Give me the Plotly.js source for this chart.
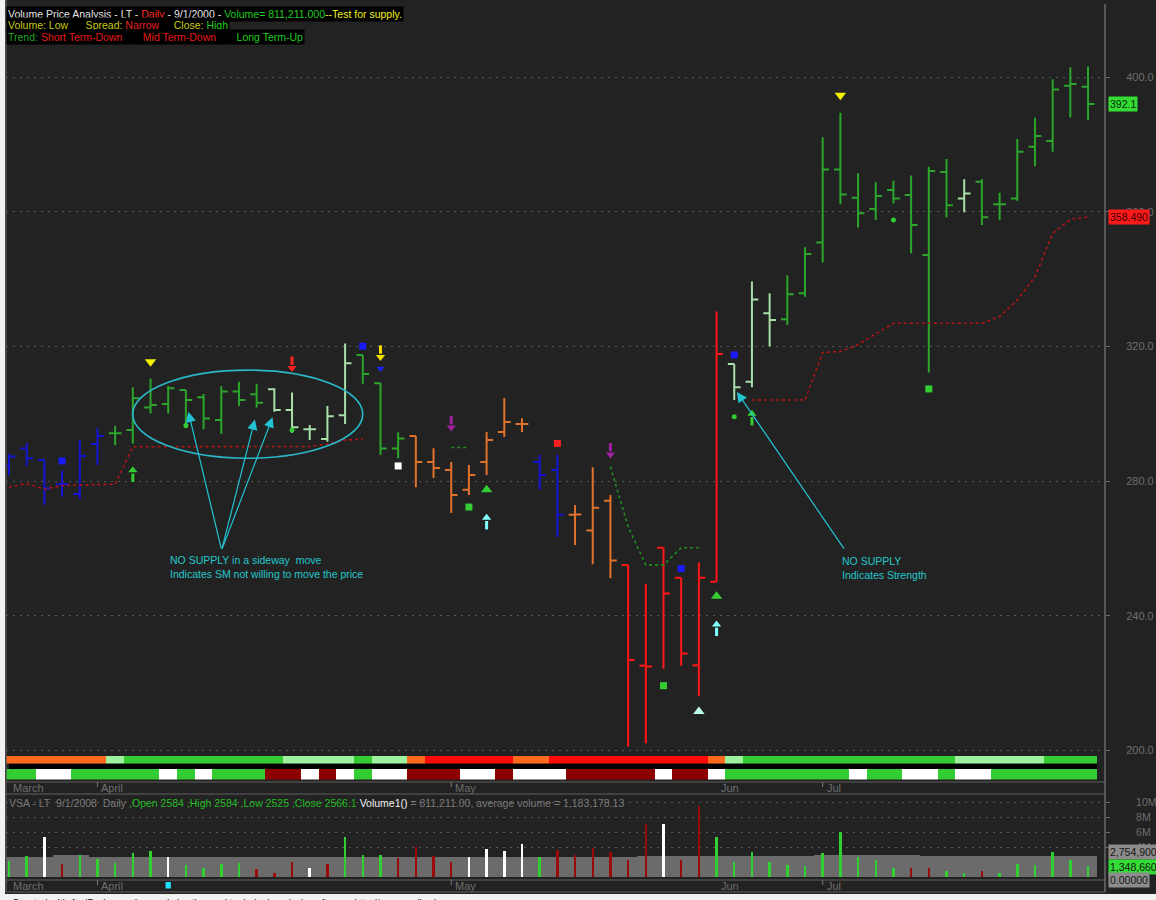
<!DOCTYPE html>
<html>
<head>
<meta charset="utf-8">
<script src="https://cdn.plot.ly/plotly-3.0.1.min.js"></script>
<style>
  html, body { margin: 0; padding: 0; background: #ffffff; }
  #chart { width: 1156px; height: 900px; }
</style>
</head>
<body>
<div id="chart"></div>
<script>
// VSA daily chart of LT: price bars, trend bands and volume

// ---- data ----
const high  = [288.1, 291.4, 286.3, 283.1, 292.2, 295.7, 296.4, 307.9, 310.5, 308.3,
               307.1, 305.9, 308.3, 309.5, 308.9, 307.6, 306.3, 296.7, 302.3, 320.9,
               317.5, 309.1, 294.5, 293.4, 289.8, 285.7, 284.8, 294.6, 304.7, 298.7,
               287.8, 287.8, 272.9, 284.1, 275.9, 255.1, 249.4, 260.2, 251.3, 255.8,
               330.4, 314.8, 339.3, 335.8, 341.2, 349.5, 382.2, 389.5, 371.5, 368.8,
               369.3, 370.8, 373.4, 375.7, 369.7, 369.7, 365.7, 381.7, 388.0, 399.4,
               403.0, 403.2];
const low   = [281.8, 284.5, 273.0, 275.4, 274.6, 284.8, 290.7, 291.2, 300.1, 300.1,
               295.7, 295.4, 294.0, 302.3, 301.9, 300.6, 294.4, 292.2, 291.7, 297.0,
               308.9, 287.8, 286.8, 278.2, 280.9, 270.5, 275.9, 281.8, 293.1, 294.6,
               277.4, 263.4, 261.0, 255.3, 251.1, 201.1, 202.1, 224.2, 225.1, 216.1,
               250.1, 304.1, 307.9, 320.0, 326.4, 334.8, 345.0, 362.3, 355.4, 357.6,
               362.5, 347.7, 312.3, 358.4, 359.9, 356.1, 357.6, 363.3, 373.6, 377.9,
               388.1, 387.3];
const open  = [284.5, 289.7, 286.3, 279.1, 276.2, 291.0, 294.2, 295.2, 301.9, 302.9,
               307.1, 304.9, 298.2, 306.6, 305.8, 307.3, 301.1, 295.4, 292.5, 299.6,
               317.5, 309.1, 289.7, 293.4, 285.7, 283.3, 277.4, 285.7, 294.6, 297.0,
               285.7, 283.3, 270.0, 265.3, 274.2, 255.1, 225.1, 260.2, 251.3, 225.3,
               250.1, 314.8, 309.5, 329.9, 328.1, 335.8, 350.9, 372.6, 364.2, 360.9,
               366.5, 365.0, 347.2, 371.9, 364.0, 369.0, 362.3, 364.0, 379.4, 381.1,
               397.5, 397.2];
const close = [287.3, 286.8, 277.9, 279.1, 287.5, 293.4, 294.2, 304.6, 302.6, 307.6,
               304.1, 298.6, 306.6, 304.1, 303.3, 301.1, 296.0, 295.4, 299.3, 315.0,
               311.8, 289.7, 292.7, 285.7, 283.9, 275.9, 281.8, 292.2, 297.6, 297.0,
               281.8, 270.0, 270.1, 272.1, 256.4, 226.8, 224.9, 246.6, 228.8, 251.3,
               317.8, 307.9, 334.0, 327.9, 335.5, 347.5, 372.6, 365.2, 359.6, 364.7,
               364.0, 356.1, 372.2, 362.0, 365.5, 358.4, 362.3, 377.9, 382.6, 396.4,
               398.0, 392.1];

// bar colour class: B blue, G green, L pale green, O orange, R red
const barClass = 'BBBBBBGGGGGGGGGLLLLLGGGOOOOOOOBBOOORRRRRRLLLGGGGGGGGGGLGGGGGGG'.split('');

// volume in millions and its colour class: G up, W neutral, R down
const volume = [2.13, 2.8, 5.3, 1.73, 2.93, 2.4, 1.9, 3.15, 3.47, 2.62,
                1.6, 1.16, 1.73, 1.9, 1.07, 0.58, 1.95, 1.16, 1.73, 5.3,
                2.93, 2.93, 2.6, 3.96, 2.8, 1.95, 2.62, 3.7, 3.47, 4.35,
                2.62, 3.6, 2.93, 3.82, 3.29, 2.27, 7.07, 7.07, 2.27, 9.47,
                5.38, 1.95, 3.29, 1.95, 1.6, 1.51, 3.24, 5.96, 2.62, 2.27,
                1.24, 1.24, 1.24, 0.84, 0.58, 0.8, 0.58, 1.73, 1.6, 3.29,
                2.27, 1.51];
const volClass = 'GGWRGGGGGWGGGGRRRWRGGGRRRRWWWWGRRRRRRWRRGGGGGGGGGGGRRGGRGGGGGG'.split('');
const avgVolume = [2.63, 2.63, 2.63, 2.9, 2.9, 2.63, 2.63, 2.63, 2.63, 2.63,
                   2.63, 2.63, 2.63, 2.63, 2.63, 2.63, 2.63, 2.63, 2.63, 2.63,
                   2.63, 2.63, 2.63, 2.63, 2.63, 2.63, 2.63, 2.63, 2.63, 2.63,
                   2.63, 2.63, 2.63, 2.63, 2.63, 2.63, 2.8, 2.8, 2.8, 2.8,
                   2.8, 2.8, 2.8, 2.8, 2.8, 2.8, 2.95, 2.95, 2.95, 2.95,
                   2.95, 2.95, 2.75, 2.75, 2.75, 2.75, 2.75, 2.75, 2.75, 2.75,
                   2.75, 2.75];

// trend ribbons: O orange, l pale green, G green, R red / W white, D dark red
const bandTop    = 'OOOOOOlGGGGGGGGGllllGllORRRRROORRRRRRRRROlGGGGGGGGGGGGlllllGGG'.split('');
const bandBottom = 'GGWWGGGGGWGWGGGDDWDWGWWDDDWWDWWWDDDDDWDDWGGGGGGGWGGWWGWWGGGGGG'.split('');

// dotted stop lines
const stopLine = [278.2, 279.3, 277.6, 278.7, 278.8, 279.0, 279.1, 290.2, 290.2, 290.2,
                  290.2, 290.2, 290.2, 290.2, 290.2, 290.2, 290.2, 290.3, 291.0, 292.2,
                  292.5, null, null, null, null, null, null, null, null, null,
                  null, null, null, null, null, null, null, null, null, null,
                  null, null, 304.1, 304.1, 304.1, 304.1, 318.2, 318.5, 320.6, 323.8,
                  326.9, 326.9, 326.9, 326.9, 326.9, 326.9, 328.9, 333.8, 340.7, 353.6,
                  357.8, 358.49];
const trendLine = [null, null, null, null, null, null, null, null, null, null,
                   null, null, null, null, null, null, null, null, null, null,
                   null, null, null, null, null, 290.0, 290.0, null, null, null,
                   null, null, null, null, 284.3, 266.5, 255.1, 255.1, 260.2, 260.2,
                   null, null, null, null, null, null, null, null, null, null,
                   null, null, null, null, null, null, null, null, null, null,
                   null, null];

// signals
const yellowTriX = [8, 47],           yellowTriY = [315.5, 394.7];
const blueTriX = [21],                blueTriY = [313.5];
const blueSqX = [3, 20, 38, 41],      blueSqY = [286.0, 320.1, 254.0, 317.5];
const redSqX = [31],                  redSqY = [291.2];
const whiteSqX = [22],                whiteSqY = [284.5];
const greenSqX = [26, 37, 52],        greenSqY = [272.3, 219.2, 307.4];
const greenDotX = [10, 16, 41, 50],   greenDotY = [296.5, 295.2, 299.1, 357.6];
const greenTriX = [27, 40],           greenTriY = [277.4, 245.8];
const paleTriX = [39],                paleTriY = [211.5];
const yellowArrX = [21],              yellowArrY = [317.8];
const redArrX = [16],                 redArrY = [314.5];
const purpleArrX = [25, 34],          purpleArrY = [296.8, 288.8];
const greenArrX = [7, 42],            greenArrY = [282.3, 299.1];
const cyanArrX = [27, 40],            cyanArrY = [268.2, 236.5];
const cyanBar = 9;

// axes
const priceTicks = [200, 240, 280, 320, 360, 400];
const volTicks = [4, 6, 8, 10];
const monthNames = ['March', 'April', 'May', 'Jun', 'Jul'];
const monthIdx = [0, 5, 25, 40, 46];
const monthMark = [false, true, true, false, true];
const volBoxValues = [2.7549, 1.34866, 0];
const volBoxText = ['2,754,900', '1,348,660', '0.00000'];

// ---- helpers ----
const W = 1156, H = 900;
const px = x => x / W;
const py = y => 1 - y / H;
const FONT = 'Liberation Sans, Arial, sans-serif';
const days = close.map((_, i) => i);

const barColors  = { B: '#1414d2', G: '#2ba52b', L: '#a8dea8', O: '#e0722c', R: '#ff1616' };
const volColors  = { G: '#2fd02f', W: '#ffffff', R: '#9a0a0a' };
const bandColors = { O: '#ff6a1e', l: '#9ef29e', G: '#33cc33', R: '#ff0a0a', W: '#ffffff', D: '#8c0000' };

const traces = [];

// ribbons
traces.push({
  type: 'bar', x: days, y: days.map(() => 1), width: 1, yaxis: 'y2',
  marker: { color: bandTop.map(c => bandColors[c]), line: { width: 0 } }, hoverinfo: 'skip'
});
traces.push({
  type: 'bar', x: days, y: days.map(() => 1), width: 1, yaxis: 'y3',
  marker: { color: bandBottom.map(c => bandColors[c]), line: { width: 0 } }, hoverinfo: 'skip'
});

// average volume (grey area) then the volume bars
traces.push({
  type: 'bar', x: days, y: avgVolume, width: 1, yaxis: 'y4',
  marker: { color: '#6b6b6b', line: { width: 0 } }, hoverinfo: 'skip'
});
traces.push({
  type: 'bar', x: days, y: volume, width: 0.14, yaxis: 'y4',
  marker: { color: volClass.map(c => volColors[c]), line: { width: 0 } }, hoverinfo: 'skip'
});

// price bars, one ohlc trace per colour
Object.keys(barColors).forEach(k => {
  const sel = days.filter(i => barClass[i] === k);
  const col = barColors[k];
  traces.push({
    type: 'ohlc', x: sel, open: sel.map(i => open[i]), high: sel.map(i => high[i]),
    low: sel.map(i => low[i]), close: sel.map(i => close[i]), tickwidth: 0.36,
    increasing: { line: { color: col, width: 2 } },
    decreasing: { line: { color: col, width: 2 } },
    hoverinfo: 'skip'
  });
});

// dotted lines
traces.push({
  type: 'scatter', mode: 'lines', x: days, y: stopLine, connectgaps: false,
  line: { color: '#b01414', width: 1.6, dash: 'dot' }, hoverinfo: 'skip'
});
traces.push({
  type: 'scatter', mode: 'lines', x: days, y: trendLine, connectgaps: false,
  line: { color: '#1f8f1f', width: 1.6, dash: 'dot' }, hoverinfo: 'skip'
});

function markers(xs, ys, symbol, color, size) {
  return {
    type: 'scatter', mode: 'markers', x: xs, y: ys, hoverinfo: 'skip',
    marker: { symbol: symbol, color: color, size: size, line: { width: 0 } }
  };
}
function arrow(xs, ys, color, dir) {
  return [
    {
      type: 'scatter', mode: 'markers', x: xs, y: ys.map(v => v - dir * 1.3), hoverinfo: 'skip',
      marker: { symbol: 'line-ns', size: 6, line: { color: color, width: 3 } }
    },
    markers(xs, ys.map(v => v + dir * 0.9), dir > 0 ? 'triangle-up' : 'triangle-down', color, 8)
  ];
}

traces.push(markers(yellowTriX, yellowTriY, 'triangle-down', '#f4f000', 10));
traces.push(markers(blueTriX, blueTriY, 'triangle-down', '#2020ff', 7));
traces.push(markers(blueSqX, blueSqY, 'square', '#1a1aff', 7));
traces.push(markers(redSqX, redSqY, 'square', '#ff2020', 7));
traces.push(markers(whiteSqX, whiteSqY, 'square', '#ffffff', 7));
traces.push(markers(greenSqX, greenSqY, 'square', '#33cc33', 7));
traces.push(markers(greenDotX, greenDotY, 'circle', '#33cc33', 5));
traces.push(markers(greenTriX, greenTriY, 'triangle-up', '#33cc33', 10));
traces.push(markers(paleTriX, paleTriY, 'triangle-up', '#b8ffe6', 10));
traces.push(...arrow(yellowArrX, yellowArrY, '#f0e000', -1));
traces.push(...arrow(redArrX, redArrY, '#ff2020', -1));
traces.push(...arrow(purpleArrX, purpleArrY, '#a020a0', -1));
traces.push(...arrow(greenArrX, greenArrY, '#33cc33', 1));
traces.push(...arrow(cyanArrX, cyanArrY, '#80ffff', 1));

// ---- layout pieces ----
const grid = { showgrid: true, gridcolor: '#555555', griddash: '2px,5px', gridwidth: 1 };
const axisFont = { family: FONT, size: 11, color: '#6e6e6e' };

const shapes = [
  // black gap between ribbons
  { type: 'rect', xref: 'paper', yref: 'paper', x0: px(9), x1: px(1097), y0: py(769), y1: py(763.5),
    fillcolor: '#000000', line: { width: 0 }, layer: 'below' },
  // panel separators
  ...[782, 794, 880, 892].map(y => ({
    type: 'line', xref: 'paper', yref: 'paper', x0: px(6), x1: px(1105), y0: py(y), y1: py(y),
    line: { color: '#4c4c4c', width: 1.5 }
  })),
  // right axis line and left border
  { type: 'line', xref: 'paper', yref: 'paper', x0: px(1105), x1: px(1105), y0: py(892), y1: py(4),
    line: { color: '#6a6a6a', width: 1.5 } },
  { type: 'line', xref: 'paper', yref: 'paper', x0: px(6), x1: px(6), y0: py(892), y1: 1,
    line: { color: '#555555', width: 1.5 } },
  { type: 'rect', xref: 'paper', yref: 'paper', x0: 0, x1: px(5), y0: 0, y1: 1,
    fillcolor: '#f2f2f2', line: { width: 0 } },
  { type: 'rect', xref: 'paper', yref: 'paper', x0: 0, x1: 1, y0: 0, y1: py(894),
    fillcolor: '#f2f2f2', line: { width: 0 } },
  // sideways range ellipse
  { type: 'circle', xref: 'x', yref: 'y', x0: 6.99, x1: 20.0, y0: 286.8, y1: 313.0,
    line: { color: '#2ab8c8', width: 1.6 } },
  // cyan marker in the bottom date row
  { type: 'rect', xref: 'x', yref: 'paper', x0: cyanBar - 0.15, x1: cyanBar + 0.15,
    y0: py(888.5), y1: py(882), fillcolor: '#20e0ff', line: { width: 0 } }
];

// month tick marks
[788, 886].forEach(rowY => {
  monthIdx.forEach((m, k) => {
    if (!monthMark[k]) return;
    shapes.push({ type: 'line', xref: 'x', yref: 'paper', x0: m, x1: m,
      y0: py(rowY - 1), y1: py(rowY - 6), line: { color: '#777777', width: 1 } });
  });
});

const annotations = [];

// header block
const hdr = [
  '<span style="color:#e6e6e6">Volume Price Analysis - LT - </span><span style="color:#ff2a2a">Daily</span>' +
  '<span style="color:#e6e6e6"> - 9/1/2000 - </span><span style="color:#22cc22">Volume= 811,211.000</span>' +
  '<span style="color:#f0f020">--Test for supply.</span>',
  '<span style="color:#c8c814">Volume: Low\u00a0\u00a0\u00a0\u00a0\u00a0 Spread: </span><span style="color:#e42020">Narrow</span>' +
  '<span style="color:#c8c814">\u00a0\u00a0\u00a0\u00a0 Close: </span><span style="color:#22cc22">High</span>',
  '<span style="color:#22a822">Trend: </span><span style="color:#e41818">Short Term-Down</span>' +
  '\u00a0\u00a0\u00a0\u00a0\u00a0\u00a0\u00a0<span style="color:#e41818">Mid Term-Down</span>' +
  '\u00a0\u00a0\u00a0\u00a0\u00a0\u00a0\u00a0<span style="color:#22cc22">Long Term-Up</span>'
];
[13.5, 25, 36.5].forEach((y, k) => annotations.push({
  xref: 'paper', yref: 'paper', x: px(6), y: py(y), xanchor: 'left', yanchor: 'middle',
  text: hdr[k], showarrow: false, bgcolor: '#000000', borderpad: 1,
  font: { family: FONT, size: 10.5, color: '#e6e6e6' }
}));

// volume pane title
annotations.push({
  xref: 'paper', yref: 'paper', x: px(7), y: py(803), xanchor: 'left', yanchor: 'middle', showarrow: false,
  text: '<span style="color:#7a7a7a">VSA - LT\u00a0\u00a09/1/2008\u00a0\u00a0Daily </span>' +
        '<span style="color:#22bb22">,Open 2584 ,High 2584 ,Low 2525 ,Close 2566.1 </span>' +
        '<span style="color:#f0f0f0">Volume1()</span>' +
        '<span style="color:#7a7a7a"> = 811,211.00, average volume = 1,183,178.13</span>',
  font: { family: FONT, size: 10.5, color: '#7a7a7a' }
});

// month labels (both panes)
[788, 886].forEach(rowY => {
  monthNames.forEach((name, k) => annotations.push({
    xref: 'x', yref: 'paper', x: monthIdx[k], y: py(rowY), xanchor: 'left', yanchor: 'middle',
    xshift: 2, text: name, showarrow: false, font: axisFont
  }));
});

// notes
const noteFont = { family: FONT, size: 10.5, color: '#22c6cc' };
annotations.push({
  xref: 'x', yref: 'y', x: 9.0, y: 254.4, xanchor: 'left', yanchor: 'middle', align: 'left',
  showarrow: false, text: 'NO SUPPLY in a sideway\u00a0 move<br>Indicates SM not willing to move the price', font: noteFont
});
annotations.push({
  xref: 'x', yref: 'y', x: 46.97, y: 254.2, xanchor: 'left', yanchor: 'middle', align: 'left',
  showarrow: false, text: 'NO SUPPLY<br>Indicates Strength', font: noteFont
});
const pointer = { xref: 'x', yref: 'y', axref: 'x', ayref: 'y', text: '', showarrow: true,
  arrowhead: 2, arrowsize: 1.7, arrowwidth: 1.2, arrowcolor: '#22c4d4', standoff: 0 };
[[10.14, 300.6], [13.9, 298.3], [14.9, 299.0]].forEach(h => annotations.push(
  Object.assign({}, pointer, { x: h[0], y: h[1], ax: 12.02, ay: 259.5 })));
annotations.push(Object.assign({}, pointer, { x: 41.15, y: 306.5, ax: 47.26, ay: 259.5 }));

// last value boxes
const last = close.length - 1;
annotations.push({
  xref: 'paper', yref: 'y', x: px(1108), y: close[last], xanchor: 'left', yanchor: 'middle',
  text: close[last].toFixed(1), showarrow: false, bgcolor: '#33dd33', borderpad: 1,
  font: { family: FONT, size: 10.5, color: '#0a2a0a' }
});
annotations.push({
  xref: 'paper', yref: 'y', x: px(1108), y: stopLine[last], xanchor: 'left', yanchor: 'middle',
  text: stopLine[last].toFixed(3), showarrow: false, bgcolor: '#ff1a1a', borderpad: 1,
  font: { family: FONT, size: 10.5, color: '#3a0000' }
});
const volBoxBg = ['#8c8c8c', '#33dd33', '#8c8c8c'];
volBoxValues.forEach((v, k) => annotations.push({
  xref: 'paper', yref: 'y4', x: px(1108), y: v, xanchor: 'left', yanchor: 'middle',
  yshift: k === 0 ? 4 : (k === 2 ? -3 : 0),
  text: volBoxText[k], showarrow: false, bgcolor: volBoxBg[k], borderpad: 1,
  font: { family: FONT, size: 10.5, color: '#151515' }
}));

// credit line
annotations.push({
  xref: 'paper', yref: 'paper', x: px(10), y: py(895.5), xanchor: 'left', yanchor: 'top', showarrow: false,
  text: 'Created with AmiBroker - advanced charting and technical analysis software. http://www.amibroker.com',
  font: { family: FONT, size: 10, color: '#111111' }
});

const layout = {
  width: W, height: H,
  margin: { l: 0, r: 0, t: 0, b: 0 },
  paper_bgcolor: '#222222', plot_bgcolor: '#222222',
  showlegend: false, hovermode: false,
  barmode: 'overlay', bargap: 0,
  xaxis: {
    domain: [px(6), px(1105)], range: [-0.17, 61.96],
    visible: false, rangeslider: { visible: false }, fixedrange: true
  },
  yaxis: Object.assign({
    domain: [py(754), py(5)], range: [198.9, 421.5], side: 'right', anchor: 'x',
    tickvals: priceTicks, ticktext: priceTicks.map(v => v.toFixed(1)),
    tickfont: axisFont, ticks: 'outside', ticklen: 4, tickcolor: '#6a6a6a',
    ticklabelstandoff: 14, zeroline: false, showline: false, fixedrange: true
  }, grid),
  yaxis2: { domain: [py(763.5), py(756)], range: [0, 1], anchor: 'x', visible: false, fixedrange: true },
  yaxis3: { domain: [py(779.5), py(769)], range: [0, 1], anchor: 'x', visible: false, fixedrange: true },
  yaxis4: Object.assign({
    domain: [py(877), py(796)], range: [0, 10.8], side: 'right', anchor: 'x',
    tickvals: volTicks, ticktext: volTicks.map(v => v + 'M'),
    tickfont: { family: FONT, size: 10.5, color: '#6e6e6e' }, ticks: 'outside', ticklen: 4, tickcolor: '#6a6a6a',
    ticklabelstandoff: 24, zeroline: false, showline: false, fixedrange: true
  }, grid),
  shapes: shapes,
  annotations: annotations
};

Plotly.newPlot('chart', traces, layout, { staticPlot: true, displayModeBar: false });
</script>
</body>
</html>
